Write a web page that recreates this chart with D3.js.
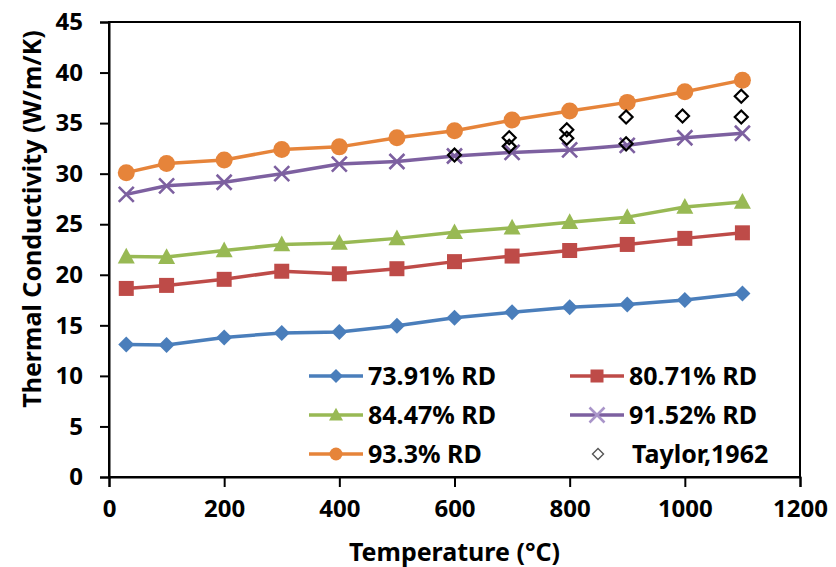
<!DOCTYPE html>
<html>
<head>
<meta charset="utf-8">
<script src="https://cdn.jsdelivr.net/npm/d3@7"></script>
<style>
  html, body { margin: 0; padding: 0; background: #fff; }
  text { font-family: "Noto Sans", "Open Sans", sans-serif; font-weight: 700; fill: #000; }
</style>
</head>
<body>
<svg id="chart" width="836" height="567"></svg>
<script>
// Temperatures (°C) of the measured series
const temps = [30, 100, 200, 300, 400, 500, 600, 700, 800, 900, 1000, 1100];

// Thermal conductivity (W/m/K) for each relative density
const rd7391 = [13.1, 13.05, 13.8, 14.25, 14.35, 14.95, 15.75, 16.3, 16.8, 17.05, 17.5, 18.15];
const rd8071 = [18.65, 18.95, 19.55, 20.35, 20.1, 20.6, 21.3, 21.85, 22.4, 23.0, 23.6, 24.15];
const rd8447 = [21.8, 21.75, 22.4, 23.0, 23.15, 23.6, 24.2, 24.65, 25.2, 25.7, 26.7, 27.2];
const rd9152 = [27.95, 28.8, 29.15, 30.0, 30.95, 31.2, 31.75, 32.1, 32.35, 32.8, 33.55, 34.0];
const rd9330 = [30.1, 31.0, 31.35, 32.4, 32.65, 33.55, 34.25, 35.3, 36.2, 37.05, 38.1, 39.25];

// Reference data (Taylor, 1962)
const taylorT = [600, 695, 695, 795, 795, 898, 898, 996, 1098, 1098];
const taylorK = [31.85, 33.55, 32.7, 34.35, 33.5, 35.6, 32.95, 35.7, 37.65, 35.6];

const seriesNames = ["73.91% RD", "80.71% RD", "84.47% RD", "91.52% RD", "93.3% RD"];
const seriesValues = [rd7391, rd8071, rd8447, rd9152, rd9330];
const seriesColors = ["#4A7EBB", "#BE4B48", "#98B954", "#7D60A0", "#E6843A"];
const seriesMarkers = ["diamond", "square", "triangle", "cross", "circle"];
const taylorName = "Taylor,1962";

const xTicks = [0, 200, 400, 600, 800, 1000, 1200];
const yTicks = [0, 5, 10, 15, 20, 25, 30, 35, 40, 45];

const svg = d3.select("#chart");
const x = d3.scaleLinear().domain([0, 1200]).range([109, 800]);
const y = d3.scaleLinear().domain([0, 45]).range([477, 22]);

// Plot frame
svg.append("rect")
  .attr("x", x(0)).attr("y", y(45))
  .attr("width", x(1200) - x(0)).attr("height", y(0) - y(45))
  .attr("fill", "none").attr("stroke", "#000").attr("stroke-width", 2);

// Axes
const tickFont = 24;
const labelFont = 25;
const xAxis = svg.append("g")
  .attr("transform", `translate(0,${y(0)})`)
  .call(d3.axisBottom(x).tickValues(xTicks).tickSize(10).tickPadding(10).tickFormat(d3.format("d")));
const yAxis = svg.append("g")
  .attr("transform", `translate(${x(0)},0)`)
  .call(d3.axisLeft(y).tickValues(yTicks).tickSize(9).tickPadding(17).tickFormat(d3.format("d")));
[xAxis, yAxis].forEach(g => {
  g.select(".domain").attr("stroke", "#000").attr("stroke-width", 2);
  g.selectAll(".tick line").attr("stroke", "#000").attr("stroke-width", 2);
  g.selectAll(".tick text")
    .attr("font-family", "Noto Sans, sans-serif").attr("font-weight", 700)
    .attr("font-size", tickFont).attr("fill", "#000");
});
xAxis.selectAll(".tick text").attr("dy", "0.85em");

// Axis titles
svg.append("text")
  .attr("x", x(600)).attr("y", 561)
  .attr("text-anchor", "middle").attr("font-size", labelFont)
  .text("Temperature (°C)");
svg.append("text")
  .attr("transform", `translate(41,${219}) rotate(-90)`)
  .attr("text-anchor", "middle").attr("font-size", labelFont)
  .text("Thermal Conductivity (W/m/K)");

// Marker shapes
function marker(sel, kind, color, size) {
  if (kind === "circle") {
    sel.append("circle").attr("r", size / 2).attr("fill", color);
  } else if (kind === "square") {
    sel.append("rect").attr("x", -size / 2).attr("y", -size / 2)
      .attr("width", size).attr("height", size).attr("fill", color);
  } else if (kind === "diamond") {
    const h = size / 2;
    sel.append("path").attr("d", `M0,${-h}L${h},0L0,${h}L${-h},0Z`).attr("fill", color);
  } else if (kind === "triangle") {
    const h = size / 2;
    sel.append("path").attr("d", `M0,${-h * 1.05}L${h},${h * 0.8}L${-h},${h * 0.8}Z`).attr("fill", color);
  } else if (kind === "cross") {
    const h = size / 2;
    sel.append("path").attr("d", `M${-h},${-h}L${h},${h}M${-h},${h}L${h},${-h}`)
      .attr("stroke", color).attr("stroke-width", 2.6).attr("fill", "none");
  }
}
const plotSizes = { circle: 17, square: 15, diamond: 16, triangle: 17, cross: 15 };

// Series lines and markers
const line = d3.line().x(d => x(d[0])).y(d => y(d[1]));
seriesValues.forEach((vals, i) => {
  const pts = temps.map((t, j) => [t, vals[j]]);
  const g = svg.append("g");
  g.append("path").datum(pts).attr("d", line)
    .attr("fill", "none").attr("stroke", seriesColors[i]).attr("stroke-width", 3.5)
    .attr("stroke-linejoin", "round");
  g.selectAll("g.pt").data(pts).join("g").attr("class", "pt")
    .attr("transform", d => `translate(${x(d[0])},${y(d[1])})`)
    .each(function () { marker(d3.select(this), seriesMarkers[i], seriesColors[i], plotSizes[seriesMarkers[i]]); });
});

// Taylor reference points (open diamonds)
svg.append("g").selectAll("path").data(taylorT.map((t, j) => [t, taylorK[j]])).join("path")
  .attr("transform", d => `translate(${x(d[0])},${y(d[1])})`)
  .attr("d", "M0,-6.5L6.5,0L0,6.5L-6.5,0Z")
  .attr("fill", "none").attr("stroke", "#000").attr("stroke-width", 2.2);

// Legend
const legendCols = [309, 570];
const legendRows = [376, 415, 454];
const legendItems = seriesNames.map((n, i) => ({ name: n, color: seriesColors[i], kind: seriesMarkers[i] }));
legendItems.push({ name: taylorName, color: "#555", kind: "open" });
const legendSizes = { circle: 13, square: 13, diamond: 14, triangle: 14, cross: 15 };
legendItems.forEach((it, i) => {
  const g = svg.append("g")
    .attr("transform", `translate(${legendCols[i % 2]},${legendRows[Math.floor(i / 2)]})`);
  if (it.kind === "open") {
    g.append("path").attr("transform", "translate(28,0)")
      .attr("d", "M0,-5.5L5.5,0L0,5.5L-5.5,0Z")
      .attr("fill", "none").attr("stroke", "#555").attr("stroke-width", 1.4);
  } else {
    g.append("line").attr("x1", 0).attr("x2", 54).attr("y1", 0).attr("y2", 0)
      .attr("stroke", it.color).attr("stroke-width", 3.5);
    const m = g.append("g").attr("transform", "translate(27,0)");
    marker(m, it.kind, it.kind === "cross" ? "#A995C9" : it.color, legendSizes[it.kind]);
  }
  g.append("text").attr("x", it.kind === "open" ? 62 : 59).attr("y", 0).attr("dy", "0.36em")
    .attr("font-size", labelFont).text(it.name);
});
</script>
</body>
</html>
